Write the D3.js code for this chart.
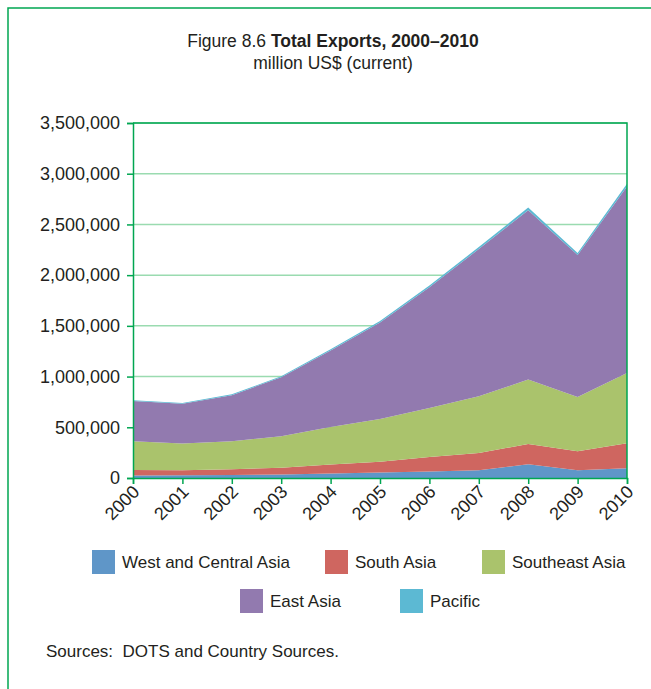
<!DOCTYPE html>
<html>
<head>
<meta charset="utf-8">
<script src="https://cdn.jsdelivr.net/npm/d3@7"></script>
<style>
  html, body { margin: 0; padding: 0; background: #fff; }
  svg { display: block; }
  text { font-family: "Liberation Sans", Arial, sans-serif; fill: #231f20; }
</style>
</head>
<body>
<svg id="chart" width="651" height="689"></svg>
<script>
// ---- data (million US$, current) ----
const years = [2000, 2001, 2002, 2003, 2004, 2005, 2006, 2007, 2008, 2009, 2010];
const westCentralAsia = [25000, 27000, 29000, 35000, 45000, 53000, 63000, 76000, 135000, 76000, 96000];
const southAsia       = [54000, 49000, 57000, 67000, 87000, 107000, 144000, 171000, 200000, 187000, 246000];
const southeastAsia   = [283000, 263000, 276000, 309000, 371000, 422000, 483000, 559000, 635000, 536000, 693000];
const eastAsia        = [396000, 393000, 455000, 582000, 754000, 951000, 1191000, 1451000, 1671000, 1399000, 1840000];
const pacific         = [8000, 7000, 8000, 10000, 12000, 15000, 17000, 20000, 25000, 20000, 25000];
const seriesNames  = ["West and Central Asia", "South Asia", "Southeast Asia", "East Asia", "Pacific"];
const seriesColors = ["#5f96c8", "#cf6660", "#aac36c", "#927aaf", "#5cb9d3"];
const yTicks = [0, 500000, 1000000, 1500000, 2000000, 2500000, 3000000, 3500000];

const seriesValues = [westCentralAsia, southAsia, southeastAsia, eastAsia, pacific];
const table = years.map((yr, i) => {
  const row = { year: yr };
  seriesNames.forEach((n, k) => row[n] = seriesValues[k][i]);
  return row;
});

const svg = d3.select("#chart");
const green = "#00a651";
const gridGreen = "#9adbb0";

// outer frame (left + top)
svg.append("path")
  .attr("d", "M8,689 L8,8 L651,8")
  .attr("fill", "none").attr("stroke", green).attr("stroke-width", 1.5);

// title
const title = svg.append("text").attr("x", 333).attr("y", 47).attr("text-anchor", "middle")
  .style("font-size", "17.5px");
title.append("tspan").text("Figure 8.6 ");
title.append("tspan").style("font-weight", "bold").text("Total Exports, 2000\u20132010");
svg.append("text").attr("x", 333).attr("y", 69).attr("text-anchor", "middle")
  .style("font-size", "17.5px").text("million US$ (current)");

const pLeft = 133, pRight = 627, pTop = 123, pBottom = 478;
const x = d3.scaleLinear().domain([2000, 2010]).range([pLeft, pRight]);
const y = d3.scaleLinear().domain([0, 3500000]).range([pBottom, pTop]);

// grid lines
svg.append("g").selectAll("line").data(yTicks.slice(1)).join("line")
  .attr("x1", pLeft).attr("x2", pRight)
  .attr("y1", d => y(d)).attr("y2", d => y(d))
  .attr("stroke", gridGreen).attr("stroke-width", 1.5);

// stacked areas
const stack = d3.stack().keys(seriesNames);
const layers = stack(table);
const area = d3.area()
  .x(d => x(d.data.year))
  .y0(d => y(d[0]))
  .y1(d => y(d[1]));
svg.append("g").selectAll("path").data(layers).join("path")
  .attr("d", area)
  .attr("fill", (d, i) => seriesColors[i]);

// plot frame (top, right)
svg.append("path")
  .attr("d", `M${pLeft},${pTop} L${pRight},${pTop} L${pRight},${pBottom}`)
  .attr("fill", "none").attr("stroke", green).attr("stroke-width", 1.5);

// y axis
const yAxis = svg.append("g").attr("transform", `translate(${pLeft},0)`)
  .call(d3.axisLeft(y).tickValues(yTicks).tickFormat(d3.format(",")).tickSize(6).tickPadding(7));
yAxis.select(".domain").attr("stroke", green).attr("stroke-width", 1.5);
yAxis.selectAll(".tick line").attr("stroke", green).attr("stroke-width", 1.5);
yAxis.selectAll(".tick text").style("font-size", "18px").style("font-family", "'Liberation Sans', Arial, sans-serif").attr("fill", "#231f20");

// x axis
const xAxis = svg.append("g").attr("transform", `translate(0,${pBottom})`)
  .call(d3.axisBottom(x).tickValues(years).tickFormat(d3.format("d")).tickSize(6));
xAxis.select(".domain").attr("stroke", green).attr("stroke-width", 1.5);
xAxis.selectAll(".tick line").attr("stroke", green).attr("stroke-width", 1.5);
xAxis.selectAll(".tick text")
  .style("font-size", "18px").style("font-family", "'Liberation Sans', Arial, sans-serif").attr("fill", "#231f20")
  .attr("text-anchor", "end")
  .attr("dy", null).attr("y", 0)
  .attr("transform", "translate(7,15) rotate(-45)");

// legend
const legendItems = [
  { name: seriesNames[0], color: seriesColors[0], sx: 92, cy: 562 },
  { name: seriesNames[1], color: seriesColors[1], sx: 325, cy: 562 },
  { name: seriesNames[2], color: seriesColors[2], sx: 482, cy: 562 },
  { name: seriesNames[3], color: seriesColors[3], sx: 240, cy: 601 },
  { name: seriesNames[4], color: seriesColors[4], sx: 400, cy: 601 }
];
const lg = svg.append("g").selectAll("g").data(legendItems).join("g");
lg.append("rect").attr("x", d => d.sx).attr("y", d => d.cy - 12)
  .attr("width", 23).attr("height", 24).attr("fill", d => d.color);
lg.append("text").attr("x", d => d.sx + 30).attr("y", d => d.cy + 6)
  .style("font-size", "17px").text(d => d.name);

// source
svg.append("text").attr("x", 46).attr("y", 657).style("font-size", "17px")
  .attr("xml:space", "preserve")
  .text("Sources:\u00a0\u00a0DOTS and Country Sources.");
</script>
</body>
</html>
